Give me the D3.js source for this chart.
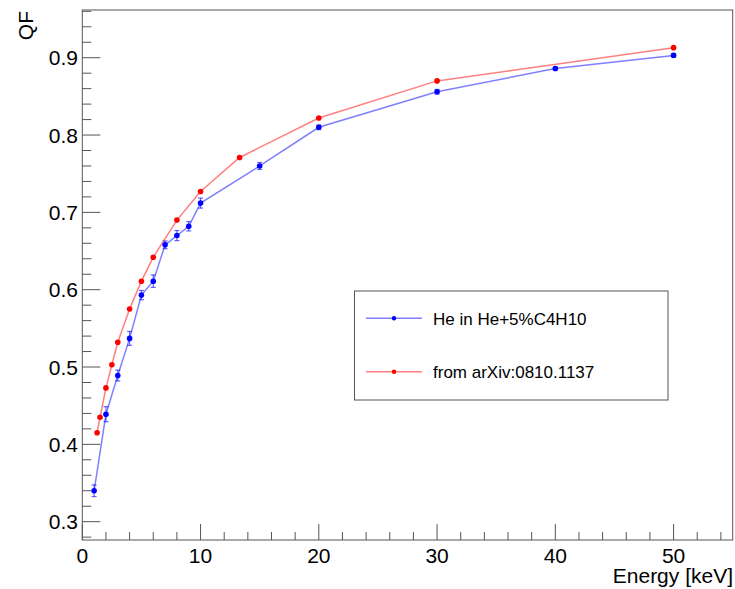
<!DOCTYPE html>
<html>
<head>
<meta charset="utf-8">
<script src="https://cdn.jsdelivr.net/npm/d3@7"></script>
<style>
	body { margin: 0; background: #fff; }
	text { font-family: "Liberation Sans", Arial, Helvetica, sans-serif; fill: #000; }
</style>
</head>
<body>
<svg id="chart" width="735" height="589"></svg>
<script>
// He in He+5%C4H10 (measured, with errors)
var heEnergy = [1, 2, 3, 4, 5, 6, 7, 8, 9, 10, 15, 20, 30, 40, 50];
var heQF = [0.340, 0.439, 0.489, 0.537, 0.593, 0.611, 0.658, 0.670, 0.682, 0.712, 0.760, 0.810, 0.856, 0.886, 0.903];
var heErr = [0.0075, 0.0097, 0.007, 0.009, 0.006, 0.008, 0.005, 0.0065, 0.006, 0.0065, 0.0045, 0.003, 0.003, 0.002, 0.002];

// from arXiv:0810.1137
var refEnergy = [1.25, 1.5, 2, 2.5, 3, 4, 5, 6, 8, 10, 13.3, 20, 30, 50];
var refQF = [0.415, 0.435, 0.473, 0.503, 0.532, 0.575, 0.611, 0.642, 0.690, 0.727, 0.771, 0.822, 0.870, 0.913];

var xTicks = [0, 10, 20, 30, 40, 50];
var yTicks = [0.3, 0.4, 0.5, 0.6, 0.7, 0.8, 0.9];
var legendLabels = ['He in He+5%C4H10', 'from arXiv:0810.1137'];

var svg = d3.select('#chart');
var frame = { left: 82.3, right: 732.7, top: 10, bottom: 540 };

var x = d3.scaleLinear().domain([0, 55]).range([frame.left, frame.right]);
var y = d3.scaleLinear().domain([0.2763, 0.9617]).range([frame.bottom, frame.top]);

// frame
svg.append('rect')
	.attr('x', frame.left)
	.attr('y', frame.top)
	.attr('width', frame.right - frame.left)
	.attr('height', frame.bottom - frame.top)
	.attr('fill', 'none')
	.attr('stroke', '#555')
	.attr('stroke-width', 1);

// x axis ticks (major 10, minor 2)
var xMinor = d3.range(0, 55.01, 2).filter(function(v){ return v % 10 != 0; });
svg.append('g').selectAll('line.xminor').data(xMinor).enter().append('line')
	.attr('x1', function(d){ return x(d); })
	.attr('x2', function(d){ return x(d); })
	.attr('y1', frame.bottom)
	.attr('y2', frame.bottom - 8)
	.attr('stroke', '#555');
svg.append('g').selectAll('line.xmajor').data(xTicks).enter().append('line')
	.attr('x1', function(d){ return x(d); })
	.attr('x2', function(d){ return x(d); })
	.attr('y1', frame.bottom)
	.attr('y2', frame.bottom - 16)
	.attr('stroke', '#555');
svg.append('g').selectAll('text').data(xTicks).enter().append('text')
	.attr('x', function(d){ return x(d); })
	.attr('y', 563)
	.attr('text-anchor', 'middle')
	.style('font-size', '21px')
	.text(function(d){ return d; });

// y axis ticks (major 0.1, minor 0.02)
var yMinor = d3.range(0.28, 0.961, 0.02).filter(function(v){
	return Math.abs(v * 10 - Math.round(v * 10)) > 0.01;
});
svg.append('g').selectAll('line.yminor').data(yMinor).enter().append('line')
	.attr('x1', frame.left)
	.attr('x2', frame.left + 9)
	.attr('y1', function(d){ return y(d); })
	.attr('y2', function(d){ return y(d); })
	.attr('stroke', '#555');
svg.append('g').selectAll('line.ymajor').data(yTicks).enter().append('line')
	.attr('x1', frame.left)
	.attr('x2', frame.left + 18)
	.attr('y1', function(d){ return y(d); })
	.attr('y2', function(d){ return y(d); })
	.attr('stroke', '#555');
svg.append('g').selectAll('text').data(yTicks).enter().append('text')
	.attr('x', 78)
	.attr('y', function(d){ return y(d) + 7.5; })
	.attr('text-anchor', 'end')
	.style('font-size', '21px')
	.text(function(d){ return d3.format('.1f')(d); });

// axis titles
svg.append('text')
	.attr('x', 733)
	.attr('y', 583)
	.attr('text-anchor', 'end')
	.style('font-size', '21px')
	.text('Energy [keV]');
svg.append('text')
	.attr('transform', 'translate(33,11) rotate(-90)')
	.attr('text-anchor', 'end')
	.style('font-size', '21px')
	.text('QF');

var line = d3.line()
	.x(function(d){ return x(d[0]); })
	.y(function(d){ return y(d[1]); });

// reference series
var refPts = d3.zip(refEnergy, refQF);
svg.append('path')
	.datum(refPts)
	.attr('d', line)
	.attr('fill', 'none')
	.attr('stroke', 'rgba(255,0,0,0.5)')
	.attr('stroke-width', 1.5);
svg.append('g').selectAll('circle').data(refPts).enter().append('circle')
	.attr('cx', function(d){ return x(d[0]); })
	.attr('cy', function(d){ return y(d[1]); })
	.attr('r', 2.8)
	.attr('fill', '#ff0000');

// measured series
var hePts = d3.zip(heEnergy, heQF, heErr);
svg.append('path')
	.datum(hePts)
	.attr('d', line)
	.attr('fill', 'none')
	.attr('stroke', 'rgba(0,0,255,0.5)')
	.attr('stroke-width', 1.5);

var gErr = svg.append('g')
	.attr('stroke', 'rgba(0,0,255,0.6)')
	.attr('stroke-width', 1.2);
hePts.forEach(function(d){
	var cx = x(d[0]);
	var yTop = y(d[1] + d[2]);
	var yBot = y(d[1] - d[2]);
	gErr.append('line').attr('x1', cx).attr('x2', cx).attr('y1', yTop).attr('y2', yBot);
	gErr.append('line').attr('x1', cx - 2.5).attr('x2', cx + 2.5).attr('y1', yTop).attr('y2', yTop);
	gErr.append('line').attr('x1', cx - 2.5).attr('x2', cx + 2.5).attr('y1', yBot).attr('y2', yBot);
});
svg.append('g').selectAll('circle').data(hePts).enter().append('circle')
	.attr('cx', function(d){ return x(d[0]); })
	.attr('cy', function(d){ return y(d[1]); })
	.attr('r', 2.8)
	.attr('fill', '#0000ff');

// legend
var legend = svg.append('g');
legend.append('rect')
	.attr('x', 354.5)
	.attr('y', 291)
	.attr('width', 313.5)
	.attr('height', 109)
	.attr('fill', '#fff')
	.attr('stroke', '#555');
var legendColors = [['rgba(0,0,255,0.5)', '#0000ff'], ['rgba(255,0,0,0.5)', '#ff0000']];
legendLabels.forEach(function(label, i){
	var ly = 318.3 + i * 53.4;
	legend.append('line')
		.attr('x1', 366).attr('x2', 422)
		.attr('y1', ly).attr('y2', ly)
		.attr('stroke', legendColors[i][0])
		.attr('stroke-width', 1.5);
	legend.append('circle')
		.attr('cx', 394).attr('cy', ly)
		.attr('r', 2.2)
		.attr('fill', legendColors[i][1]);
	legend.append('text')
		.attr('x', 433)
		.attr('y', ly + 6.5)
		.style('font-size', '17px')
		.text(label);
});
</script>
</body>
</html>
